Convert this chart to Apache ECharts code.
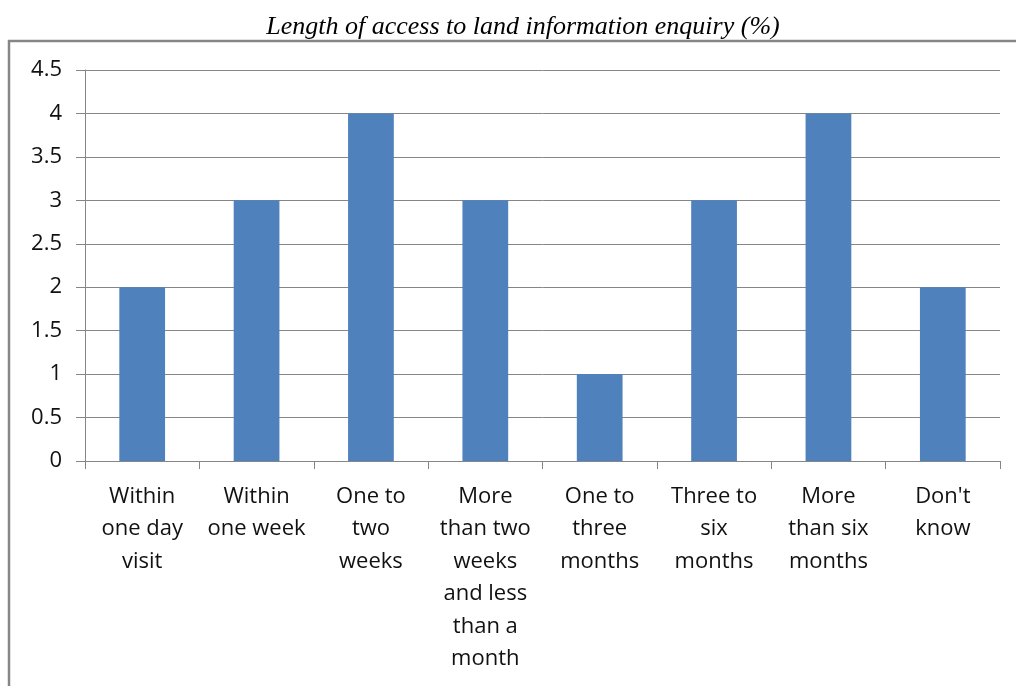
<!DOCTYPE html>
<html>
<head>
<meta charset="utf-8">
<script src="https://cdn.jsdelivr.net/npm/echarts@6/dist/echarts.min.js"></script>
<style>
  html, body { margin: 0; padding: 0; background: #fff; }
  #chart { width: 1016px; height: 686px; }
</style>
</head>
<body>
<div id="chart"></div>
<script>
// data
const categories = [
    'Within\none day\nvisit',
    'Within\none week',
    'One to\ntwo\nweeks',
    'More\nthan two\nweeks\nand less\nthan a\nmonth',
    'One to\nthree\nmonths',
    'Three to\nsix\nmonths',
    'More\nthan six\nmonths',
    "Don't\nknow"
];
const values = [2, 3, 4, 3, 1, 3, 4, 2];
const titleText = 'Length of access to land information enquiry (%)';

const chart = echarts.init(document.getElementById('chart'));
const option = {
    animation: false,
    title: {
        text: titleText,
        left: 518,
        textAlign: 'center',
        top: 9,
        textStyle: {
            fontFamily: '"Liberation Serif", serif',
            fontStyle: 'italic',
            fontWeight: 'normal',
            fontSize: 26,
            color: '#000'
        }
    },
    graphic: [
        {
            type: 'rect',
            shape: { x: 9, y: 41, width: 1100, height: 700 },
            style: { fill: 'none', stroke: '#868686', lineWidth: 2.5 }
        }
    ],
    grid: {
        left: 85,
        right: 16,
        top: 70,
        bottom: 225
    },
    xAxis: {
        type: 'category',
        data: categories,
        axisLine: { lineStyle: { color: '#868686', width: 1 } },
        axisTick: { show: true, length: 8, lineStyle: { color: '#868686' } },
        axisLabel: {
            interval: 0,
            margin: 19,
            lineHeight: 32.5,
            fontFamily: '"Open Sans", sans-serif',
            fontSize: 22,
            color: '#111'
        }
    },
    yAxis: {
        type: 'value',
        min: 0,
        max: 4.5,
        interval: 0.5,
        axisLine: { show: true, lineStyle: { color: '#868686', width: 1 } },
        axisTick: { show: true, length: 9, lineStyle: { color: '#868686' } },
        splitLine: { lineStyle: { color: '#868686', width: 1 } },
        axisLabel: {
            margin: 23,
            fontFamily: '"Open Sans", sans-serif',
            fontSize: 22,
            color: '#111'
        }
    },
    series: [
        {
            type: 'bar',
            data: values,
            barWidth: '40%',
            itemStyle: { color: '#4F81BD' }
        }
    ]
};
chart.setOption(option);
</script>
</body>
</html>
